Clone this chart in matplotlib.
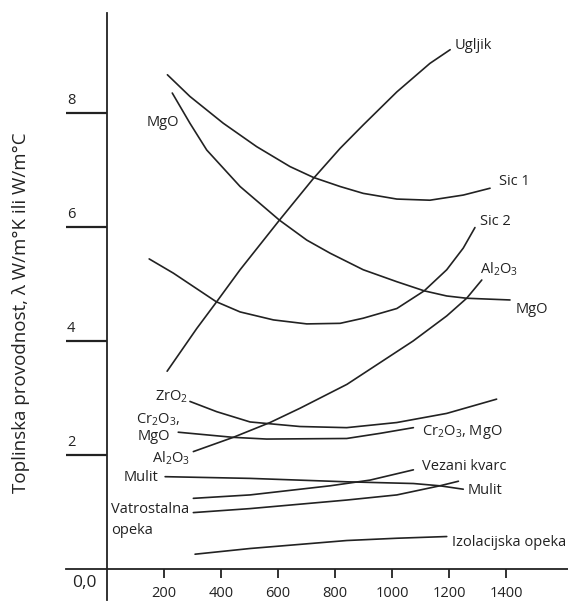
import matplotlib
matplotlib.use("Agg")
import matplotlib.pyplot as plt

plt.rcParams['font.family'] = ['Open Sans', 'DejaVu Sans']
plt.rcParams['mathtext.fontset'] = 'custom'
plt.rcParams['mathtext.rm'] = 'Open Sans'
plt.rcParams['mathtext.it'] = 'Open Sans'

# ---- data (temperature °C, conductivity W/m°K) ----
ugljik_x = [211, 315, 385, 467, 605, 724, 818, 899, 1017, 1133, 1204]
ugljik_y = [3.47, 4.22, 4.69, 5.25, 6.12, 6.85, 7.38, 7.79, 8.37, 8.87, 9.11]

sic1_x = [212, 291, 408, 525, 642, 724, 818, 899, 1017, 1133, 1250, 1344]
sic1_y = [8.67, 8.29, 7.82, 7.41, 7.06, 6.87, 6.71, 6.59, 6.49, 6.47, 6.56, 6.68]

mgo_x = [229, 291, 350, 467, 605, 701, 783, 899, 1017, 1113, 1192, 1262, 1414]
mgo_y = [8.35, 7.82, 7.35, 6.71, 6.12, 5.77, 5.54, 5.25, 5.04, 4.88, 4.79, 4.75, 4.72]

sic2_x = [148, 233, 383, 467, 584, 701, 818, 899, 1017, 1113, 1192, 1250, 1291]
sic2_y = [5.44, 5.19, 4.69, 4.51, 4.37, 4.30, 4.31, 4.40, 4.57, 4.88, 5.25, 5.63, 5.99]

al2o3_x = [303, 443, 572, 677, 842, 958, 1074, 1192, 1262, 1315]
al2o3_y = [2.06, 2.31, 2.57, 2.82, 3.24, 3.62, 4.00, 4.44, 4.75, 5.07]

zro2_x = [291, 385, 502, 677, 841, 1017, 1192, 1367]
zro2_y = [2.94, 2.76, 2.58, 2.50, 2.48, 2.57, 2.73, 2.98]

cr_x = [250, 443, 560, 841, 958, 1075]
cr_y = [2.40, 2.31, 2.28, 2.29, 2.38, 2.48]

mulit_x = [204, 502, 841, 1075, 1168, 1250]
mulit_y = [1.62, 1.59, 1.53, 1.50, 1.46, 1.40]

kvarc_x = [303, 502, 783, 923, 1075]
kvarc_y = [1.24, 1.30, 1.46, 1.56, 1.74]

vatro_x = [303, 502, 841, 1017, 1168, 1233]
vatro_y = [0.99, 1.06, 1.21, 1.30, 1.46, 1.54]

izol_x = [309, 502, 841, 1017, 1192]
izol_y = [0.26, 0.36, 0.50, 0.54, 0.57]

x_ticks = [200, 400, 600, 800, 1000, 1200, 1400]
y_ticks = [2, 4, 6, 8]

series = [(ugljik_x, ugljik_y), (sic1_x, sic1_y), (mgo_x, mgo_y), (sic2_x, sic2_y),
          (al2o3_x, al2o3_y), (zro2_x, zro2_y), (cr_x, cr_y), (mulit_x, mulit_y),
          (kvarc_x, kvarc_y), (vatro_x, vatro_y), (izol_x, izol_y)]

fig = plt.figure(figsize=(5.68, 6.03), dpi=100)
ax = fig.add_axes([0, 0, 1, 1])
ax.set_xlim(-375.4, 1617.5)
ax.set_ylim(-0.596, 9.982)
ax.patch.set_visible(False)

lc = '#222222'
for xs, ys in series:
    ax.plot(xs, ys, color=lc, lw=1.2, solid_capstyle='round', solid_joinstyle='round')

# axes
for s in ['top', 'right']:
    ax.spines[s].set_visible(False)
ax.spines['left'].set_position(('data', 0))
ax.spines['bottom'].set_position(('data', 0))
ax.spines['left'].set_bounds(-0.55, 9.75)
ax.spines['bottom'].set_bounds(-144, 1617)
for s in ['left', 'bottom']:
    ax.spines[s].set_color(lc)
    ax.spines[s].set_linewidth(1.3)

ax.set_xticks(x_ticks)
ax.set_xticklabels([str(v) for v in x_ticks])
ax.tick_params(axis='x', direction='out', length=6.5, width=1.3, color=lc,
               labelsize=10.5, pad=6, labelcolor='#222222')
ax.set_yticks(y_ticks)
ax.set_yticklabels([])
ax.tick_params(axis='y', direction='out', length=29.5, width=1.6, color=lc)
for v in y_ticks:
    ax.text(-140, v + 0.08, str(v), ha='left', va='bottom', fontsize=10.5, color='#222222')
ax.text(-80, -0.25, '0,0', ha='center', va='center', fontsize=12.5, color='#222222')

ax.text(-300, 4.5, 'Toplinska provodnost, λ W/m°K ili W/m°C', rotation=90,
        ha='center', va='center', fontsize=13.5, color='#222222')

sub = lambda n: r'$_\mathregular{' + n + '}$'
fs = 10.5
tc = '#222222'
# right labels
ax.text(1221, 9.19, 'Ugljik', ha='left', va='center', fontsize=fs, color=tc)
ax.text(1375, 6.79, 'Sic 1', ha='left', va='center', fontsize=fs, color=tc)
ax.text(1309, 6.10, 'Sic 2', ha='left', va='center', fontsize=fs, color=tc)
ax.text(1309, 5.26, 'Al' + sub('2') + 'O' + sub('3'), ha='left', va='center', fontsize=fs, color=tc)
ax.text(1432, 4.56, 'MgO', ha='left', va='center', fontsize=fs, color=tc)
ax.text(1105, 2.40, 'Cr' + sub('2') + 'O' + sub('3') + ', MgO', ha='left', va='center', fontsize=fs, color=tc)
ax.text(1105, 1.79, 'Vezani kvarc', ha='left', va='center', fontsize=fs, color=tc)
ax.text(1267, 1.37, 'Mulit', ha='left', va='center', fontsize=fs, color=tc)
ax.text(1211, 0.47, 'Izolacijska opeka', ha='left', va='center', fontsize=fs, color=tc)
# left labels
ax.text(196, 7.84, 'MgO', ha='center', va='center', fontsize=fs, color=tc)
ax.text(284, 3.02, 'ZrO' + sub('2'), ha='right', va='center', fontsize=fs, color=tc)
ax.text(258, 2.61, 'Cr' + sub('2') + 'O' + sub('3') + ',', ha='right', va='center', fontsize=fs, color=tc)
ax.text(221, 2.33, 'MgO', ha='right', va='center', fontsize=fs, color=tc)
ax.text(293, 1.95, 'Al' + sub('2') + 'O' + sub('3'), ha='right', va='center', fontsize=fs, color=tc)
ax.text(179, 1.60, 'Mulit', ha='right', va='center', fontsize=fs, color=tc)
ax.text(14, 1.04, 'Vatrostalna', ha='left', va='center', fontsize=fs, color=tc)
ax.text(14, 0.68, 'opeka', ha='left', va='center', fontsize=fs, color=tc)

fig.savefig('out.png', dpi=100)
